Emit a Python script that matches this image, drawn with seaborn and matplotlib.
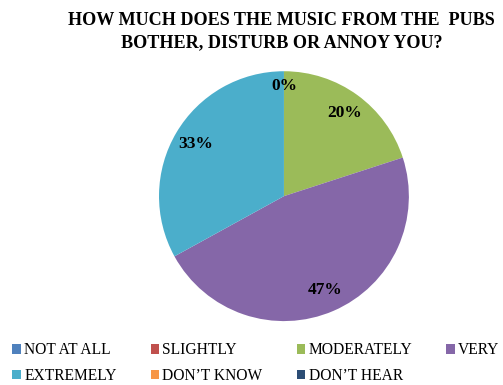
import matplotlib.pyplot as plt
import numpy as np
import seaborn as sns
from matplotlib.patches import Patch

sns.set_style("white")
plt.rcParams["font.family"] = ["Liberation Serif", "DejaVu Serif"]
plt.rcParams["text.color"] = "black"

# data
categories = ["NOT AT ALL", "SLIGHTLY", "MODERATELY", "VERY",
              "EXTREMELY", "DON\u2019T KNOW", "DON\u2019T HEAR"]
shares = [0, 0, 20, 47, 33, 0, 0]
colors = ["#4F81BD", "#C0504D", "#9BBB59", "#8567A8",
          "#4BAECB", "#F79646", "#2C4D75"]
title = "HOW MUCH DOES THE MUSIC FROM THE  PUBS\nBOTHER, DISTURB OR ANNOY YOU?"

fig = plt.figure(figsize=(5.03, 3.85), dpi=100)
ax = fig.add_axes([0.316, 0.166, 0.497, 0.649])

ax.pie(shares, colors=colors, startangle=90, counterclock=False,
       radius=1.0, wedgeprops=dict(linewidth=0))
ax.set_xlim(-1, 1)
ax.set_ylim(-1, 1)
ax.set_aspect("equal")
ax.axis("off")

# percentage labels: nonzero slices plus a single 0% at the top
shown_zero = False
start = 90.0
total = sum(shares)
for val in shares:
    span = 360.0 * val / total
    mid = start - span / 2
    if val > 0 or not shown_zero:
        dist = 0.82 if val > 0 else 0.88
        x = dist * np.cos(np.radians(mid))
        y = dist * np.sin(np.radians(mid))
        ax.text(x, y, f"{val}%", ha="center", va="center",
                fontsize=12.5, fontweight="bold", color="black")
        if val == 0:
            shown_zero = True
    start -= span

fig.text(0.56, 0.968, title, ha="center", va="top", fontsize=13.1,
         fontweight="bold", linespacing=1.35, color="black")

handles = [Patch(facecolor=c, edgecolor="none") for c in colors]
order = [0, 4, 1, 5, 2, 6, 3]
fig.legend([handles[i] for i in order], [categories[i] for i in order],
           loc="lower left", bbox_to_anchor=(0.0, -0.03), ncol=4,
           frameon=False, fontsize=11.2, handlelength=0.55, handleheight=0.55,
           handletextpad=0.2, columnspacing=2.2, labelspacing=0.62,
           borderpad=0.3, labelcolor="black")

plt.savefig("out.png", dpi=100)
plt.close()
